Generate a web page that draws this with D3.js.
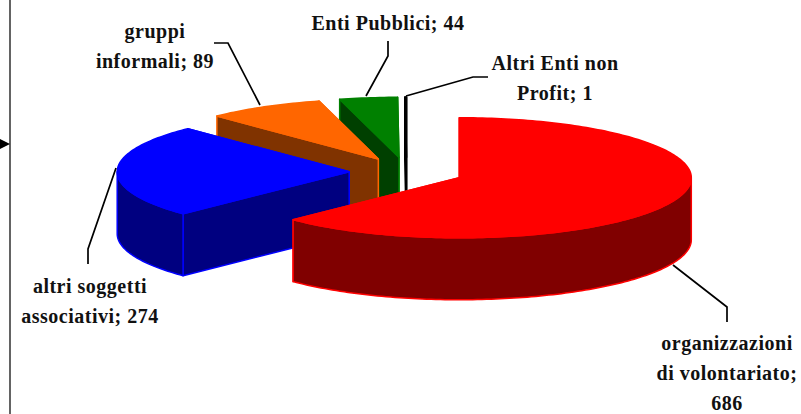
<!DOCTYPE html>
<html><head><meta charset="utf-8">
<script src="https://cdn.jsdelivr.net/npm/d3@7"></script>
<style>html,body{margin:0;padding:0;background:#fff}svg{display:block}</style>
</head><body><svg id="c" width="801" height="414"></svg>
<script>
const categories = ["organizzazioni di volontariato","altri soggetti associativi","gruppi informali","Enti Pubblici","Altri Enti non Profit"];
const values = [686,274,89,44,1];
const topColors = ["#ff0000","#0000ff","#ff6600","#008000","#000000"];
const sideColors = ["#800000","#000080","#803300","#004000","#000000"];
const labelLines = [
  ["organizzazioni","di volontariato;","686"],
  ["altri soggetti","associativi; 274"],
  ["gruppi","informali; 89"],
  ["Enti Pubblici; 44"],
  ["Altri Enti non","Profit; 1"]
];
// layout
const cx=406.5, cy=172, rx=232, ry=60, depth=62, explode=0.247;
const labelLayout = [
  {x:727,y:350,dy:30},{x:90,y:293,dy:29.5},{x:155,y:38,dy:29.5},{x:388,y:30,dy:0},{x:555,y:70,dy:30}
];
const leaders = [
  [[673,265],[727,307],[727,322]],
  [[116,168],[88,249],[88,264]],
  [[214,43],[228,43],[260,105]],
  [[388,41],[388,56],[366,96]],
  [[488,77],[473,77],[406,96]]
];
const svg=d3.select("#c");
const xS=d3.scaleLinear().domain([-1,1]).range([-rx,rx]);
const yS=d3.scaleLinear().domain([-1,1]).range([-ry,ry]);
const pt=(a,ox,oy,d=0)=>[ox+xS(Math.sin(a)),oy+yS(-Math.cos(a))+d];
const line=d3.line();
const arcs=d3.pie().sort(null)(values);
const samples=(a0,a1)=>{const n=Math.max(2,Math.ceil((a1-a0)/0.02));return d3.range(n+1).map(i=>a0+(a1-a0)*i/n);};
// frame line and arrow
svg.append("line").attr("x1",10).attr("x2",10).attr("y1",0).attr("y2",414).attr("stroke","#222").attr("stroke-width",1.4);
svg.append("path").attr("d",line([[0,139],[10,144],[0,149]])+"Z").attr("fill","#000");
// back to front
const order=[3,4,2,1,0];
order.forEach(i=>{
  const s=arcs[i], mid=(s.startAngle+s.endAngle)/2;
  const ox=cx+explode*xS(Math.sin(mid)), oy=cy+explode*yS(-Math.cos(mid));
  const g=svg.append("g").attr("class","slice").attr("data-cat",categories[i]);
  const sw=i===4?2:1.5;
  const face=(pts,fill)=>g.append("path").attr("d",line(pts)+"Z").attr("fill",fill).attr("stroke",topColors[i]).attr("stroke-width",sw).attr("stroke-linejoin","round");
  [s.endAngle,s.startAngle].forEach(a=>{
    const p=pt(a,ox,oy);
    face([[ox,oy],p,[p[0],p[1]+depth],[ox,oy+depth]],sideColors[i]);
  });
  const w0=Math.max(s.startAngle,Math.PI/2), w1=Math.min(s.endAngle,3*Math.PI/2);
  if(w1>w0){
    const as=samples(w0,w1);
    face(as.map(a=>pt(a,ox,oy)).concat(as.slice().reverse().map(a=>pt(a,ox,oy,depth))),sideColors[i]);
  }
  face([[ox,oy]].concat(samples(s.startAngle,s.endAngle).map(a=>pt(a,ox,oy))),topColors[i]);
});
// leaders
leaders.forEach(l=>svg.append("path").attr("d",line(l)).attr("fill","none").attr("stroke","#000").attr("stroke-width",1.7));
// labels
labelLines.forEach((ls,i)=>{
  const L=labelLayout[i];
  ls.forEach((t,j)=>svg.append("text").attr("x",L.x).attr("y",L.y+j*L.dy).attr("text-anchor","middle")
    .attr("font-family","'Liberation Serif',serif").attr("font-weight","bold").attr("font-size",20).attr("letter-spacing",0.5).attr("fill","#111").text(t));
});
</script></body></html>
